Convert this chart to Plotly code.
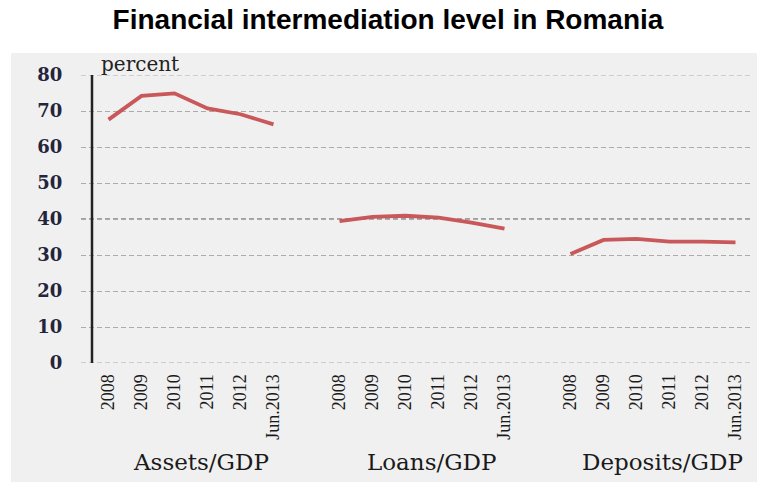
import plotly.graph_objects as go

# Financial intermediation indicators, percent of GDP
groups = ["Assets/GDP", "Loans/GDP", "Deposits/GDP"]
periods = ["2008", "2009", "2010", "2011", "2012", "Jun.2013"]
assets_gdp = [67.6, 74.2, 74.9, 70.7, 69.1, 66.3]
loans_gdp = [39.4, 40.6, 40.9, 40.4, 39.0, 37.3]
deposits_gdp = [30.3, 34.2, 34.5, 33.7, 33.7, 33.5]
series = [assets_gdp, loans_gdp, deposits_gdp]
y_ticks = [0, 10, 20, 30, 40, 50, 60, 70, 80]

W, H = 757, 482
L, R, T, B = 81, 5, 75, 119          # plot area margins in pixels
PW, PH = W - L - R, H - T - B

GAP = 1                               # empty slot between groups
STEP = len(periods) + GAP

GRID = "#ababab"
DASH = "5px,3px"


def px_x(p):
    return (p - L) / PW


def px_y(p):
    return (H - B - p) / PH


xs, ys, tickvals, ticktext = [], [], [], []
for g, vals in enumerate(series):
    for i, v in enumerate(vals):
        pos = g * STEP + i
        xs.append(pos)
        ys.append(v)
        tickvals.append(pos)
        ticktext.append(periods[i])
    xs.append(None)
    ys.append(None)

n_slots = len(groups) * STEP - GAP
x_left = -0.5 - 11 / 33
x_right = n_slots - 0.5

fig = go.Figure()
fig.add_trace(go.Scatter(
    x=xs, y=ys, mode="lines", connectgaps=False,
    line=dict(color="#c9585a", width=3.8),
    hoverinfo="skip", showlegend=False,
))

shapes = [
    # grey panel behind the chart
    dict(type="rect", xref="paper", yref="paper",
         x0=px_x(11), x1=px_x(757), y0=px_y(482), y1=px_y(53),
         fillcolor="#f0f0f0", line=dict(width=0), layer="below"),
]
# gridlines at the ends of the value range
for v in (y_ticks[0], y_ticks[-1]):
    shapes.append(dict(type="line", xref="paper", yref="y", x0=0, x1=1, y0=v, y1=v,
                       line=dict(color=GRID, width=1, dash=DASH), layer="below"))
# darker reference line at 40
shapes.append(dict(type="line", xref="paper", yref="y", x0=0, x1=1, y0=40, y1=40,
                   line=dict(color="#505050", width=1, dash=DASH), layer="below"))
# vertical axis line
shapes.append(dict(type="line", xref="x", yref="y", x0=-0.5, x1=-0.5,
                   y0=y_ticks[0], y1=y_ticks[-1],
                   line=dict(color="#222222", width=2.5)))

annotations = [
    dict(text="percent", xref="paper", yref="paper",
         x=px_x(99), y=px_y(64), xanchor="left", yanchor="middle",
         showarrow=False, font=dict(family="DejaVu Serif", size=20, color="#222222")),
]
for g, name in enumerate(groups):
    annotations.append(dict(
        text=name, xref="x", yref="paper",
        x=g * STEP + (len(periods) - 1) / 2 + 0.3, y=px_y(462),
        xanchor="center", yanchor="middle", showarrow=False,
        font=dict(family="DejaVu Serif", size=23, color="#1a1a1a"),
    ))

fig.update_layout(
    width=W, height=H,
    margin=dict(l=L, r=R, t=T, b=B, pad=0),
    paper_bgcolor="white",
    plot_bgcolor="rgba(0,0,0,0)",
    title=dict(text="<b>Financial intermediation level in Romania</b>",
               x=388 / W, xanchor="center", y=1 - 19 / H, yanchor="middle",
               font=dict(family="Liberation Sans", size=28, color="black")),
    xaxis=dict(range=[x_left, x_right], tickmode="array",
               tickvals=tickvals, ticktext=ticktext, tickangle=-90,
               showgrid=False, zeroline=False, showline=False,
               ticks="outside", ticklen=3, tickcolor="rgba(0,0,0,0)",
               tickfont=dict(family="Liberation Serif", size=18, color="#1a1a1a")),
    yaxis=dict(range=[y_ticks[0], y_ticks[-1]], tickmode="array",
               tickvals=y_ticks,
               showgrid=True, gridcolor=GRID, gridwidth=1, griddash=DASH,
               zeroline=False, showline=False,
               ticks="outside", ticklen=14, tickcolor="rgba(0,0,0,0)",
               tickfont=dict(family="DejaVu Serif", size=18, color="#24243c",
                             weight="bold")),
    shapes=shapes,
    annotations=annotations,
)

fig.write_html("out.html")
